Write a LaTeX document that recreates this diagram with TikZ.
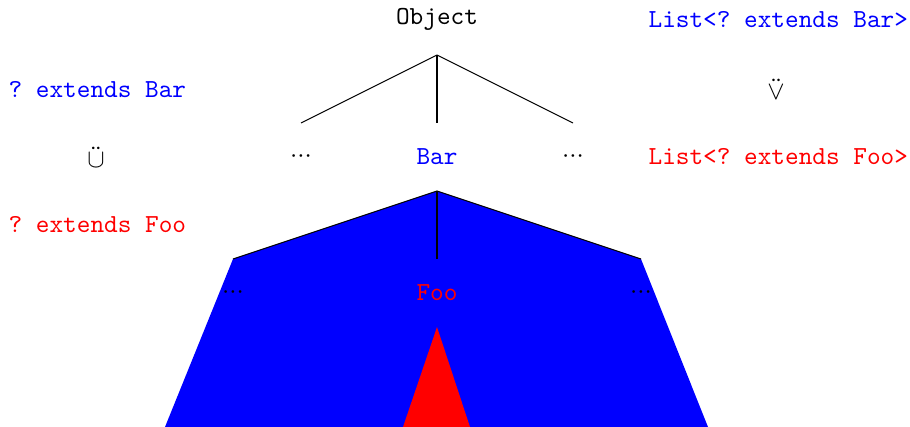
\documentclass[tikz,border=0pt]{standalone}
\usepackage{tikz}
\usetikzlibrary{positioning,calc}
\usepackage{xcolor}
\definecolor{sub}{HTML}{FF0000}
\definecolor{super}{HTML}{0000FF}
\frenchspacing
\newcommand{\more}{${\cdot}{\cdot}{\cdot}$}
\tikzset{
  type/.style={font=\ttfamily,inner sep=1pt},
  lo/.style={type,text=sub},
  hi/.style={type,text=super},
  rel/.style={font=\normalsize,inner sep=0pt},
  edge/.style={draw=black,line width=0.4pt}
}

\begin{document}
\begin{tikzpicture}[x=0.3846pt,y=-0.3846pt]
\useasboundingbox (0,0) rectangle (910,427);

% cones of subtypes
\fill[super] (437,191) -- (233,259) -- (165,427) -- (708,427) -- (641,259) -- cycle;
\fill[sub] (437,327) -- (403,427) -- (470,427) -- cycle;
\draw[edge] (233,259) -- (437,191) -- (641,259);
\draw[edge] (437,191) -- (437,259);

% tree above Bar
\node[type] (obj) at (437,19) {Object};
\coordinate (apex) at (437,55);
\coordinate (lend) at (301,123);
\coordinate (mend) at (437,123);
\coordinate (rend) at (573,123);
\draw[edge] (apex) -- (lend);
\draw[edge] (apex) -- (mend);
\draw[edge] (apex) -- (rend);

\node[rel] (ldots) at (301,157) {\more};
\node[hi] (bar) at (437,157) {Bar};
\node[rel] (rdots) at (573,157) {\more};

\node[rel] (lldots) at (233,293) {\more};
\node[lo] (foo) at (437,293) {Foo};
\node[rel] (rrdots) at (641,293) {\more};

% wildcards
\node[hi,anchor=west] (wbar) at (5.5,90) {? extends Bar};
\node[rel] (wsub) at (96,157) {$\ddot{\cup}$};
\node[lo,anchor=west] (wfoo) at (5.5,225) {? extends Foo};

% lists
\node[hi,anchor=west] (lbar) at (645.5,20) {List<? extends Bar>};
\node[rel] (lsub) at (776,89) {$\ddot{\vee}$};
\node[lo,anchor=west] (lfoo) at (645.5,157) {List<? extends Foo>};
\end{tikzpicture}
\end{document}
